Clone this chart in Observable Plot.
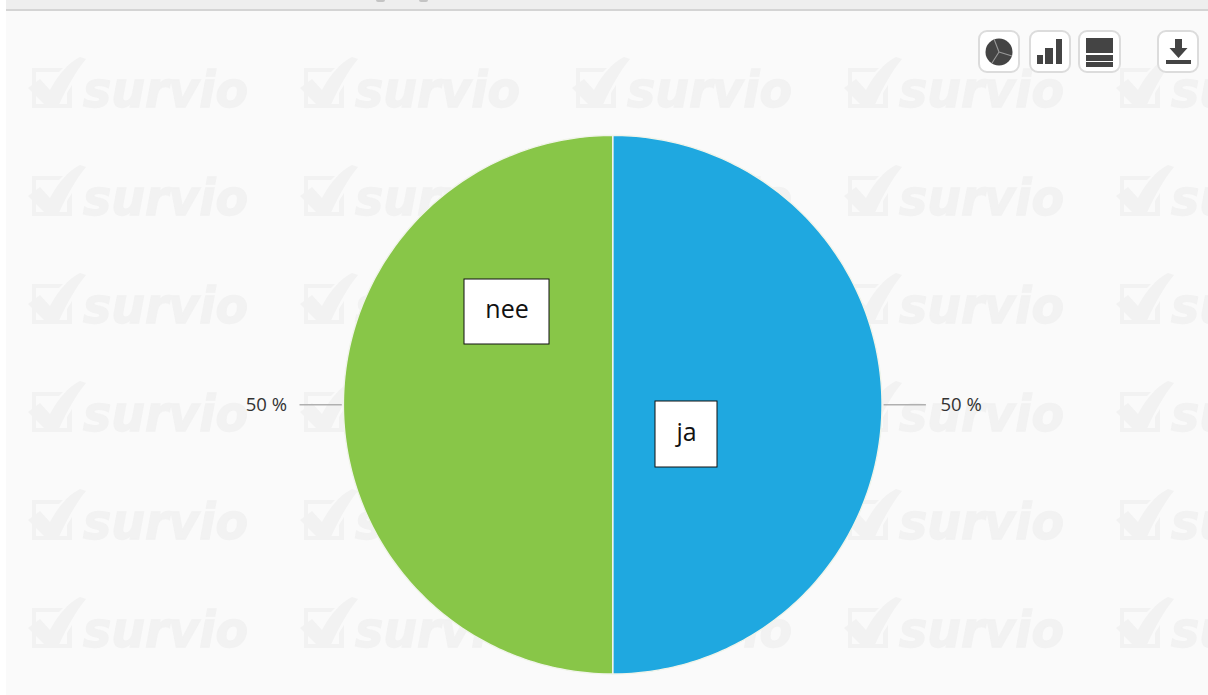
<!DOCTYPE html>
<html><head><meta charset="utf-8">
<script src="https://cdn.jsdelivr.net/npm/d3@7"></script>
<script src="https://cdn.jsdelivr.net/npm/@observablehq/plot@0.6"></script>
<style>
html,body{margin:0;padding:0;background:#fff;overflow:hidden}
#page{position:relative;width:1208px;height:695px;overflow:hidden}
#topbar{position:absolute;left:6px;top:0;width:1202px;height:9px;background:#eeeeee;border-bottom:2px solid #d4d4d4}
.blob{position:absolute;top:0;width:9px;height:1.5px;background:#c4c4c4;border-radius:0 0 5px 5px}
#panel{position:absolute;left:6px;top:11px;width:1202px;height:684px;background:#fafafa}
#wm{position:absolute;left:0;top:0;filter:blur(.5px)}
#chart{position:absolute;left:0;top:0}
.btn{position:absolute;top:30px;height:43px;box-sizing:border-box;background:#fff;border:2px solid #dcdcdc;border-radius:9px;filter:blur(.3px)}
.btn svg{position:absolute;left:-2px;top:-2px;width:calc(100% + 4px);height:calc(100% + 4px)}
</style></head><body>
<div id="page">
<div id="topbar"></div><div class="blob" style="left:376px"></div><div class="blob" style="left:419px"></div><div id="panel"></div>
<svg id="wm" width="1208" height="695"></svg>
<div id="chart"></div>
<div class="btn" style="left:978px;width:42px"><svg viewBox="0 0 42 43"><circle cx="21" cy="22" r="13.500" fill="#444"/><path d="M21 22L16 9M21 22L34 26M21 22L14 33" stroke="#999" stroke-width="1.100"/></svg></div>
<div class="btn" style="left:1029px;width:42px"><svg viewBox="0 0 42 43"><path d="M8 25h6v9h-6zM16 18h8v16h-8zM27 9h6v25h-6z" fill="#444"/></svg></div>
<div class="btn" style="left:1078px;width:43px"><svg viewBox="0 0 43 43"><path d="M8 8h27v15h-27zM8 25h27v6h-27zM8 32h27v5h-27z" fill="#444"/></svg></div>
<div class="btn" style="left:1157px;width:42px"><svg viewBox="0 0 42 43"><path d="M18 9h7v9h5.500l-9 10-9-10h5.500zM9 30h25v4h-25z" fill="#444"/></svg></div>
</div>
<script>
const categories = ["ja", "nee"];
const shares = [50, 50];
const colors = ["#1fa8e0", "#88c648"];
const pctLabels = ["50 %", "50 %"];

const W = 1208, H = 695;
const cx = 612.2, cy = 404.2, R = 269.3;

const arcs = d3.pie().sort(null)(shares);
const STEPS = 180;
const outline = arcs.flatMap((a, i) => {
  const pts = [{cat: categories[i], x: 0, y: 0}];
  for (let k = 0; k <= STEPS; k++) {
    const t = a.startAngle + (a.endAngle - a.startAngle) * k / STEPS;
    pts.push({cat: categories[i], x: Math.sin(t), y: Math.cos(t)});
  }
  pts.push({cat: categories[i], x: 0, y: 0});
  return pts;
});
const mids = arcs.map((a, i) => {
  const t = (a.startAngle + a.endAngle) / 2;
  return {cat: categories[i], label: pctLabels[i], sx: Math.sin(t)};
});

const xPx = v => (v - cx) / R, yPx = v => (cy - v) / R;
const boxes = [
  {cat: "nee", x1: 464, x2: 549, y1: 279, y2: 344},
  {cat: "ja", x1: 655, x2: 717, y1: 401, y2: 467}
];

const chart = Plot.plot({
  width: W, height: H, margin: 0,
  style: {background: "transparent"},
  x: {domain: [-1, 1], range: [cx - R, cx + R], axis: null},
  y: {domain: [-1, 1], range: [cy + R, cy - R], axis: null},
  color: {domain: categories, range: colors},
  marks: [
    Plot.line(outline, {x: "x", y: "y", z: "cat", fill: "cat", stroke: "#f0f4ea", strokeWidth: 1.4, curve: "linear"}),
    Plot.link(mids, {
      x1: d => d.sx * 1.006, x2: d => d.sx * 1.163,
      y1: () => 0, y2: () => 0,
      stroke: "#b0b0b0", strokeWidth: 1.5
    }),
    Plot.text(mids, {
      x: d => d.sx * 1.29, y: () => 0, dx: 1, text: "label",
      fontFamily: "Open Sans, Liberation Sans, sans-serif", fontSize: 18.5, fill: "#333"
    }),
    Plot.rect(boxes, {
      x1: d => xPx(d.x1), x2: d => xPx(d.x2), y1: d => yPx(d.y1), y2: d => yPx(d.y2),
      fill: "#fff", stroke: "#111", strokeWidth: 1
    }),
    Plot.text(boxes, {
      x: d => xPx((d.x1 + d.x2) / 2), y: d => yPx((d.y1 + d.y2) / 2), dy: -2, text: "cat",
      fontFamily: "Open Sans, Liberation Sans, sans-serif", fontSize: 25, fill: "#111"
    })
  ]
});
document.getElementById("chart").append(chart);

// watermark tiles behind the chart; tiles wholly hidden by the pie are skipped
const wm = d3.select("#wm");
const tileXs = [30, 302, 574, 846, 1118];
const tileYs = [57, 165, 273, 381, 489, 597];
const hidden = (tx, ty) => [[tx, ty], [tx + 220, ty], [tx, ty + 55], [tx + 220, ty + 55]]
  .every(([px, py]) => Math.hypot(px - cx, py - cy) < R);
for (const ty of tileYs) for (const tx of tileXs) {
  if (hidden(tx, ty)) continue;
  const g = wm.append("g").attr("transform", `translate(${tx},${ty})`).attr("fill", "#f2f2f2");
  g.append("path").attr("d", "M2 11H33L29 15H6V47H37V36L42 28V51H2Z");
  g.append("path").attr("d", "M-2 31L10 22L20 33C28 18 38 6 50 0L56 2C46 14 36 32 28 50L17 50Z");
  g.append("text").attr("x", 53).attr("y", 50)
    .attr("font-family", "DejaVu Sans, Liberation Sans, sans-serif")
    .attr("font-weight", 700).attr("font-style", "italic").attr("font-size", 50)
    .attr("stroke", "#f2f2f2").attr("stroke-width", 1.4)
    .attr("textLength", 165).attr("lengthAdjust", "spacingAndGlyphs").text("survio");
}
</script>
</body></html>
